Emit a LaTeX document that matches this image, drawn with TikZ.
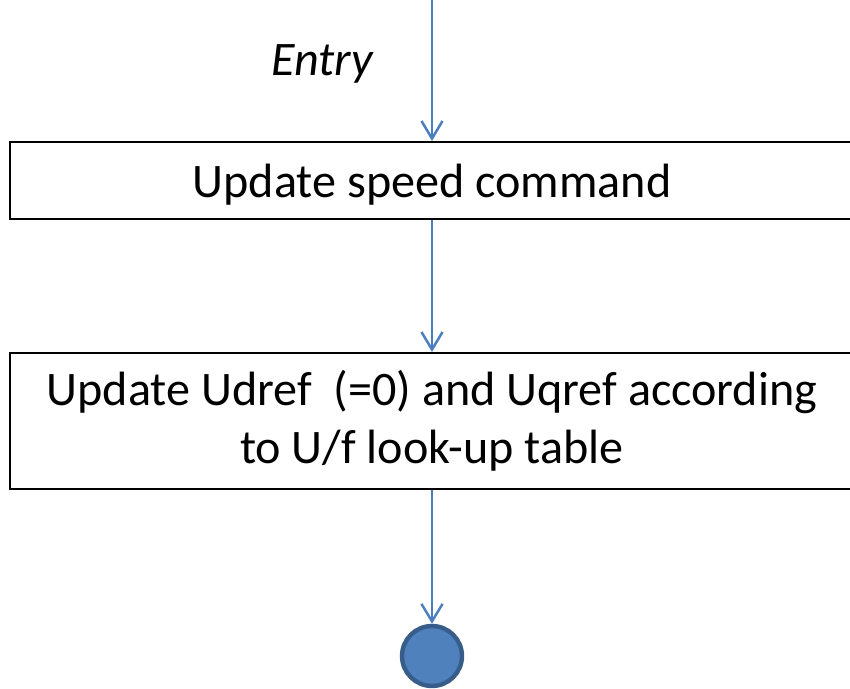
\documentclass[tikz,border=0pt]{standalone}
\usepackage{fontspec}
\setmainfont{Carlito}
\usetikzlibrary{arrows.meta}

\tikzset{
	stepbox/.style={draw=black, line width=1.2pt, minimum width=844\pxu, align=center, inner sep=0pt, font=\fontsize{27.4}{33}\selectfont},
	flow/.style={draw={rgb,255:red,74;green,126;blue,193}, line width=1.4pt, -{Straight Barb[length=10pt,width=12pt,line width=1.4pt]}},
}
\newdimen\pxu
\pxu=0.02cm

\begin{document}
\begin{tikzpicture}[x=0.02cm, y=-0.02cm]
		\useasboundingbox (0,0) rectangle (850,689);
		\clip (0,0) rectangle (850,689);
		\coordinate (top) at (432, 0);
		\node[stepbox, minimum height=77\pxu, text depth=0pt] (speed) at (432, 180.5) {Update speed command};
		\node[stepbox, minimum height=136\pxu] (uref) at (432, 421) {Update Udref~ (=0) and Uqref according\\to U/f look-up table};
		\node[circle, fill={rgb,255:red,79;green,129;blue,189}, draw={rgb,255:red,56;green,93;blue,138}, line width=2.5pt, minimum size=60\pxu, inner sep=0pt] (final) at (432, 656) {};
		\node[font=\fontsize{27.4}{30}\selectfont\itshape] (entry) at (322, 64) {Entry};
		\draw[flow] (top) -- (speed.north);
		\draw[flow] (speed) -- (uref);
		\draw[flow] (uref) -- (final);
\end{tikzpicture}
\end{document}
